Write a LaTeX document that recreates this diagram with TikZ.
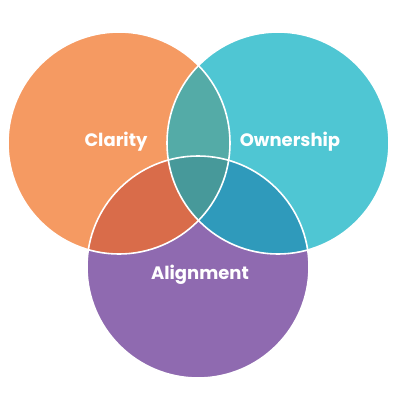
\documentclass[tikz,border=0pt]{standalone}
\usepackage{fontspec}
\setmainfont{Poppins}
\definecolor{cOr}{HTML}{F59A62}
\definecolor{cCy}{HTML}{4FC6D3}
\definecolor{cPu}{HTML}{8F6AB0}
\definecolor{cOC}{HTML}{54ABA7}
\definecolor{cOP}{HTML}{D96C4A}
\definecolor{cCP}{HTML}{2F9ABB}
\definecolor{cAll}{HTML}{47999A}
\tikzset{
  lbl/.style={text=white, font=\fontsize{18}{21}\selectfont\bfseries, inner sep=0pt},
  rim/.style={draw=white, line width=1.6pt}
}
\begin{document}
\begin{tikzpicture}[x=1pt,y=-1pt]
\useasboundingbox (0,0) rectangle (400,400);
\fill[white] (0,0) rectangle (400,400);
\def\R{111}
\coordinate (O) at (119,143);
\coordinate (C) at (278,143);
\coordinate (P) at (198,267);
% base circles
\fill[cOr] (O) circle[radius=\R];
\fill[cCy] (C) circle[radius=\R];
\fill[cPu] (P) circle[radius=\R];
% pairwise overlaps
\begin{scope}
  \clip (O) circle[radius=\R];
  \fill[cOC] (C) circle[radius=\R];
  \fill[cOP] (P) circle[radius=\R];
\end{scope}
\begin{scope}
  \clip (C) circle[radius=\R];
  \fill[cCP] (P) circle[radius=\R];
\end{scope}
\begin{scope}
  \clip (O) circle[radius=\R];
  \clip (C) circle[radius=\R];
  \fill[cAll] (P) circle[radius=\R];
\end{scope}
% white rims
\draw[rim] (O) circle[radius=\R];
\draw[rim] (C) circle[radius=\R];
\draw[rim] (P) circle[radius=\R];
% labels
\node[lbl] (clarity) at (116,142) {Clarity};
\node[lbl] (ownership) at (290,142) {Ownership};
\node[lbl] (alignment) at (200,275) {Alignment};
\end{tikzpicture}
\end{document}
